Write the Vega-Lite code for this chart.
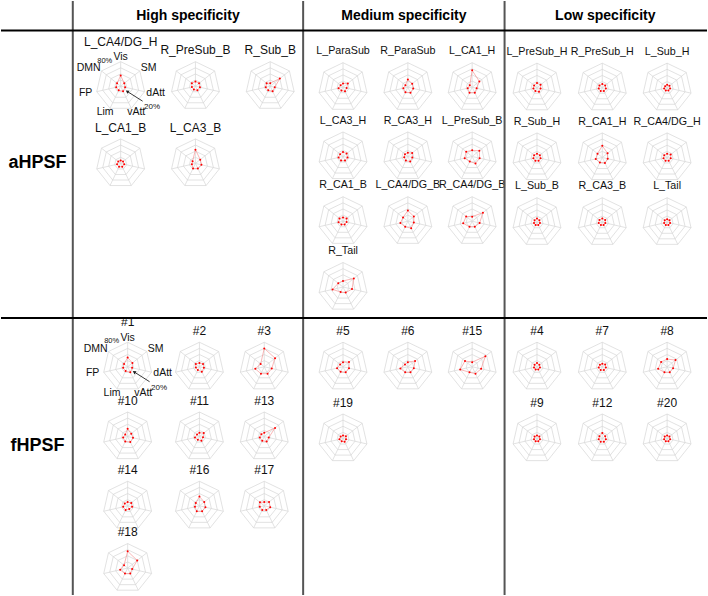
{
"$schema": "https://vega.github.io/schema/vega-lite/v6.json",
"width": 708, "height": 596, "padding": 0,
"autosize": {"type": "fit", "contains": "padding"},
"background": "white",
"config": {"view": {"stroke": null}, "font": "Liberation Sans"},
"datasets": {
"radars": [
{"p":"aHPSF","s":"High","c":0,"r":0,"name":"L_CA4/DG_H","Vis":35,"SM":15,"dAtt":15,"vAtt":18,"Lim":15,"FP":15,"DMN":15},
{"p":"aHPSF","s":"High","c":1,"r":0,"name":"R_PreSub_B","Vis":15,"SM":15,"dAtt":15,"vAtt":15,"Lim":12,"FP":12,"DMN":15},
{"p":"aHPSF","s":"High","c":2,"r":0,"name":"R_Sub_B","Vis":10,"SM":40,"dAtt":15,"vAtt":18,"Lim":15,"FP":15,"DMN":15},
{"p":"aHPSF","s":"High","c":0,"r":1,"name":"L_CA1_B","Vis":10,"SM":10,"dAtt":12,"vAtt":12,"Lim":12,"FP":12,"DMN":10},
{"p":"aHPSF","s":"High","c":1,"r":1,"name":"L_CA3_B","Vis":45,"SM":20,"dAtt":20,"vAtt":18,"Lim":18,"FP":12,"DMN":12},
{"p":"aHPSF","s":"Medium","c":0,"r":0,"name":"L_ParaSub","Vis":12,"SM":20,"dAtt":12,"vAtt":15,"Lim":12,"FP":15,"DMN":10},
{"p":"aHPSF","s":"Medium","c":1,"r":0,"name":"R_ParaSub","Vis":25,"SM":18,"dAtt":18,"vAtt":20,"Lim":18,"FP":15,"DMN":10},
{"p":"aHPSF","s":"Medium","c":2,"r":0,"name":"L_CA1_H","Vis":55,"SM":30,"dAtt":15,"vAtt":20,"Lim":20,"FP":15,"DMN":10},
{"p":"aHPSF","s":"Medium","c":0,"r":1,"name":"L_CA3_H","Vis":15,"SM":15,"dAtt":15,"vAtt":15,"Lim":15,"FP":15,"DMN":12},
{"p":"aHPSF","s":"Medium","c":1,"r":1,"name":"R_CA3_H","Vis":12,"SM":18,"dAtt":15,"vAtt":18,"Lim":15,"FP":12,"DMN":12},
{"p":"aHPSF","s":"Medium","c":2,"r":1,"name":"L_PreSub_B","Vis":20,"SM":30,"dAtt":25,"vAtt":25,"Lim":18,"FP":25,"DMN":25},
{"p":"aHPSF","s":"Medium","c":0,"r":2,"name":"R_CA1_B","Vis":12,"SM":15,"dAtt":12,"vAtt":12,"Lim":12,"FP":15,"DMN":15},
{"p":"aHPSF","s":"Medium","c":1,"r":2,"name":"L_CA4/DG_B","Vis":35,"SM":25,"dAtt":20,"vAtt":25,"Lim":20,"FP":25,"DMN":20},
{"p":"aHPSF","s":"Medium","c":2,"r":2,"name":"R_CA4/DG_B","Vis":15,"SM":45,"dAtt":25,"vAtt":20,"Lim":20,"FP":30,"DMN":25},
{"p":"aHPSF","s":"Medium","c":0,"r":3,"name":"R_Tail","Vis":20,"SM":45,"dAtt":30,"vAtt":20,"Lim":18,"FP":35,"DMN":20},
{"p":"aHPSF","s":"Low","c":0,"r":0,"name":"L_PreSub_H","Vis":15,"SM":15,"dAtt":12,"vAtt":15,"Lim":12,"FP":12,"DMN":12},
{"p":"aHPSF","s":"Low","c":1,"r":0,"name":"R_PreSub_H","Vis":12,"SM":12,"dAtt":12,"vAtt":12,"Lim":12,"FP":12,"DMN":12},
{"p":"aHPSF","s":"Low","c":2,"r":0,"name":"L_Sub_H","Vis":10,"SM":10,"dAtt":10,"vAtt":10,"Lim":10,"FP":10,"DMN":8},
{"p":"aHPSF","s":"Low","c":0,"r":1,"name":"R_Sub_H","Vis":12,"SM":12,"dAtt":12,"vAtt":12,"Lim":12,"FP":12,"DMN":12},
{"p":"aHPSF","s":"Low","c":1,"r":1,"name":"R_CA1_H","Vis":38,"SM":22,"dAtt":18,"vAtt":20,"Lim":18,"FP":22,"DMN":20},
{"p":"aHPSF","s":"Low","c":2,"r":1,"name":"R_CA4/DG_H","Vis":12,"SM":15,"dAtt":12,"vAtt":12,"Lim":12,"FP":12,"DMN":12},
{"p":"aHPSF","s":"Low","c":0,"r":2,"name":"L_Sub_B","Vis":12,"SM":10,"dAtt":10,"vAtt":10,"Lim":10,"FP":10,"DMN":10},
{"p":"aHPSF","s":"Low","c":1,"r":2,"name":"R_CA3_B","Vis":12,"SM":12,"dAtt":10,"vAtt":10,"Lim":10,"FP":12,"DMN":12},
{"p":"aHPSF","s":"Low","c":2,"r":2,"name":"L_Tail","Vis":10,"SM":10,"dAtt":10,"vAtt":10,"Lim":10,"FP":10,"DMN":10},
{"p":"fHPSF","s":"High","c":0,"r":0,"name":"#1","Vis":30,"SM":20,"dAtt":15,"vAtt":20,"Lim":15,"FP":15,"DMN":15},
{"p":"fHPSF","s":"High","c":1,"r":0,"name":"#2","Vis":12,"SM":15,"dAtt":15,"vAtt":18,"Lim":12,"FP":12,"DMN":15},
{"p":"fHPSF","s":"High","c":2,"r":0,"name":"#3","Vis":60,"SM":45,"dAtt":25,"vAtt":25,"Lim":25,"FP":30,"DMN":15},
{"p":"fHPSF","s":"High","c":0,"r":1,"name":"#10","Vis":25,"SM":15,"dAtt":18,"vAtt":20,"Lim":18,"FP":15,"DMN":10},
{"p":"fHPSF","s":"High","c":1,"r":1,"name":"#11","Vis":12,"SM":18,"dAtt":12,"vAtt":15,"Lim":12,"FP":15,"DMN":10},
{"p":"fHPSF","s":"High","c":2,"r":1,"name":"#13","Vis":12,"SM":45,"dAtt":15,"vAtt":18,"Lim":15,"FP":15,"DMN":12},
{"p":"fHPSF","s":"High","c":0,"r":2,"name":"#14","Vis":12,"SM":15,"dAtt":15,"vAtt":12,"Lim":15,"FP":15,"DMN":12},
{"p":"fHPSF","s":"High","c":1,"r":2,"name":"#16","Vis":30,"SM":20,"dAtt":20,"vAtt":20,"Lim":20,"FP":15,"DMN":15},
{"p":"fHPSF","s":"High","c":2,"r":2,"name":"#17","Vis":12,"SM":20,"dAtt":20,"vAtt":15,"Lim":15,"FP":15,"DMN":18},
{"p":"fHPSF","s":"High","c":0,"r":3,"name":"#18","Vis":55,"SM":40,"dAtt":15,"vAtt":20,"Lim":20,"FP":25,"DMN":15},
{"p":"fHPSF","s":"Medium","c":0,"r":0,"name":"#5","Vis":15,"SM":25,"dAtt":20,"vAtt":20,"Lim":18,"FP":20,"DMN":12},
{"p":"fHPSF","s":"Medium","c":1,"r":0,"name":"#6","Vis":15,"SM":30,"dAtt":20,"vAtt":20,"Lim":20,"FP":25,"DMN":12},
{"p":"fHPSF","s":"Medium","c":2,"r":0,"name":"#15","Vis":15,"SM":55,"dAtt":30,"vAtt":25,"Lim":20,"FP":40,"DMN":30},
{"p":"fHPSF","s":"Medium","c":0,"r":1,"name":"#19","Vis":10,"SM":12,"dAtt":10,"vAtt":12,"Lim":10,"FP":12,"DMN":10},
{"p":"fHPSF","s":"Low","c":0,"r":0,"name":"#4","Vis":12,"SM":10,"dAtt":10,"vAtt":10,"Lim":10,"FP":10,"DMN":10},
{"p":"fHPSF","s":"Low","c":1,"r":0,"name":"#7","Vis":10,"SM":12,"dAtt":12,"vAtt":12,"Lim":12,"FP":12,"DMN":10},
{"p":"fHPSF","s":"Low","c":2,"r":0,"name":"#8","Vis":25,"SM":35,"dAtt":20,"vAtt":20,"Lim":20,"FP":30,"DMN":25},
{"p":"fHPSF","s":"Low","c":0,"r":1,"name":"#9","Vis":10,"SM":10,"dAtt":10,"vAtt":10,"Lim":10,"FP":10,"DMN":10},
{"p":"fHPSF","s":"Low","c":1,"r":1,"name":"#12","Vis":18,"SM":12,"dAtt":12,"vAtt":12,"Lim":12,"FP":12,"DMN":12},
{"p":"fHPSF","s":"Low","c":2,"r":1,"name":"#20","Vis":10,"SM":10,"dAtt":10,"vAtt":10,"Lim":10,"FP":10,"DMN":10}
]
},
"layer": [
{
"data": {"name": "radars"},
"transform": [
{"calculate": "datum.s=='High' ? (datum.p=='aHPSF' ? [120,195,270] : [127,199,264])[datum.c] : (datum.s=='Medium' ? [343,408,472.5] : [537.5,603,668])[datum.c]", "as": "cx"},
{"calculate": "(datum.p=='aHPSF' ? (datum.s=='High' ? [85.5,163] : (datum.s=='Medium' ? [86.5,156,221,287] : [87,157,222])) : (datum.s=='High' ? [367,437,506.5,569] : [367,439]))[datum.r]", "as": "cy"},
{"fold": ["Vis","SM","dAtt","vAtt","Lim","FP","DMN"], "as": ["axis","val"]},
{"calculate": "indexof(['Vis','SM','dAtt','vAtt','Lim','FP','DMN'], datum.axis)", "as": "i"},
{"calculate": "[20,40,60,80]", "as": "lv"},
{"flatten": ["lv"]},
{"calculate": "datum.cx + 0.3075*datum.lv*sin(datum.i*2*PI/7)", "as": "px"},
{"calculate": "datum.cy - 0.3075*datum.lv*cos(datum.i*2*PI/7)", "as": "py"},
{"calculate": "datum.cx + 0.3075*datum.lv*sin((datum.i+1)*2*PI/7)", "as": "px2"},
{"calculate": "datum.cy - 0.3075*datum.lv*cos((datum.i+1)*2*PI/7)", "as": "py2"}
],
"mark": {"type": "rule", "color": "#d6d6d6", "strokeWidth": 0.7},
"encoding": {
"x": {"field": "px", "type": "quantitative", "scale": {"domain": [0,708], "nice": false, "zero": false}, "axis": null},
"y": {"field": "py", "type": "quantitative", "scale": {"domain": [0,596], "nice": false, "zero": false, "reverse": true}, "axis": null},
"x2": {"field": "px2"}, "y2": {"field": "py2"}
}
},
{
"data": {"name": "radars"},
"transform": [
{"calculate": "datum.s=='High' ? (datum.p=='aHPSF' ? [120,195,270] : [127,199,264])[datum.c] : (datum.s=='Medium' ? [343,408,472.5] : [537.5,603,668])[datum.c]", "as": "cx"},
{"calculate": "(datum.p=='aHPSF' ? (datum.s=='High' ? [85.5,163] : (datum.s=='Medium' ? [86.5,156,221,287] : [87,157,222])) : (datum.s=='High' ? [367,437,506.5,569] : [367,439]))[datum.r]", "as": "cy"},
{"fold": ["Vis","SM","dAtt","vAtt","Lim","FP","DMN"], "as": ["axis","val"]},
{"calculate": "indexof(['Vis','SM','dAtt','vAtt','Lim','FP','DMN'], datum.axis)", "as": "i"},
{"calculate": "datum.cx + 0.3075*80*sin(datum.i*2*PI/7)", "as": "px2"},
{"calculate": "datum.cy - 0.3075*80*cos(datum.i*2*PI/7)", "as": "py2"}
],
"mark": {"type": "rule", "color": "#d6d6d6", "strokeWidth": 0.7},
"encoding": {
"x": {"field": "cx", "type": "quantitative"},
"y": {"field": "cy", "type": "quantitative"},
"x2": {"field": "px2"}, "y2": {"field": "py2"}
}
},
{
"data": {"name": "radars"},
"transform": [
{"calculate": "datum.s=='High' ? (datum.p=='aHPSF' ? [120,195,270] : [127,199,264])[datum.c] : (datum.s=='Medium' ? [343,408,472.5] : [537.5,603,668])[datum.c]", "as": "cx"},
{"calculate": "(datum.p=='aHPSF' ? (datum.s=='High' ? [85.5,163] : (datum.s=='Medium' ? [86.5,156,221,287] : [87,157,222])) : (datum.s=='High' ? [367,437,506.5,569] : [367,439]))[datum.r]", "as": "cy"},
{"fold": ["Vis","SM","dAtt","vAtt","Lim","FP","DMN"], "as": ["axis","val"]},
{"calculate": "indexof(['Vis','SM','dAtt','vAtt','Lim','FP','DMN'], datum.axis)", "as": "i"},
{"calculate": "datum[['Vis','SM','dAtt','vAtt','Lim','FP','DMN'][(datum.i+1)%7]]", "as": "nval"},
{"calculate": "datum.cx + 0.3075*datum.val*sin(datum.i*2*PI/7)", "as": "px"},
{"calculate": "datum.cy - 0.3075*datum.val*cos(datum.i*2*PI/7)", "as": "py"},
{"calculate": "datum.cx + 0.3075*datum.nval*sin((datum.i+1)*2*PI/7)", "as": "px2"},
{"calculate": "datum.cy - 0.3075*datum.nval*cos((datum.i+1)*2*PI/7)", "as": "py2"}
],
"mark": {"type": "rule", "color": "#f37b7b", "strokeWidth": 0.55},
"encoding": {
"x": {"field": "px", "type": "quantitative"},
"y": {"field": "py", "type": "quantitative"},
"x2": {"field": "px2"}, "y2": {"field": "py2"}
}
},
{
"data": {"name": "radars"},
"transform": [
{"calculate": "datum.s=='High' ? (datum.p=='aHPSF' ? [120,195,270] : [127,199,264])[datum.c] : (datum.s=='Medium' ? [343,408,472.5] : [537.5,603,668])[datum.c]", "as": "cx"},
{"calculate": "(datum.p=='aHPSF' ? (datum.s=='High' ? [85.5,163] : (datum.s=='Medium' ? [86.5,156,221,287] : [87,157,222])) : (datum.s=='High' ? [367,437,506.5,569] : [367,439]))[datum.r]", "as": "cy"},
{"fold": ["Vis","SM","dAtt","vAtt","Lim","FP","DMN"], "as": ["axis","val"]},
{"calculate": "indexof(['Vis','SM','dAtt','vAtt','Lim','FP','DMN'], datum.axis)", "as": "i"},
{"calculate": "datum.cx + 0.3075*datum.val*sin(datum.i*2*PI/7)", "as": "px"},
{"calculate": "datum.cy - 0.3075*datum.val*cos(datum.i*2*PI/7)", "as": "py"}
],
"mark": {"type": "point", "filled": true, "color": "#ff0000", "size": 4, "opacity": 1},
"encoding": {
"x": {"field": "px", "type": "quantitative"},
"y": {"field": "py", "type": "quantitative"}
}
},
{
"data": {"name": "radars"},
"transform": [
{"calculate": "datum.s=='High' ? (datum.p=='aHPSF' ? [120,195,270] : [127,199,264])[datum.c] : (datum.s=='Medium' ? [343,408,472.5] : [537.5,603,668])[datum.c]", "as": "cx"},
{"calculate": "(datum.p=='aHPSF' ? (datum.s=='High' ? [85.5,163] : (datum.s=='Medium' ? [86.5,156,221,287] : [87,157,222])) : (datum.s=='High' ? [367,437,506.5,569] : [367,439]))[datum.r]", "as": "cy"},
{"calculate": "datum.cy - ((datum.name=='L_CA4/DG_H' || datum.name=='#1') ? 44.5 : 36)", "as": "ty"}
],
"mark": {"type": "text", "color": "#111111", "baseline": "middle", "align": "center"},
"encoding": {
"x": {"field": "cx", "type": "quantitative"},
"y": {"field": "ty", "type": "quantitative"},
"text": {"field": "name"},
"size": {"condition": {"test": "datum.p=='aHPSF' && datum.s!='High'", "value": 10.7}, "value": 12}
}
},
{
"data": {"name": "radars"},
"transform": [
{"filter": "datum.name=='L_CA4/DG_H' || datum.name=='#1'"},
{"calculate": "datum.s=='High' ? (datum.p=='aHPSF' ? [120,195,270] : [127,199,264])[datum.c] : (datum.s=='Medium' ? [343,408,472.5] : [537.5,603,668])[datum.c]", "as": "cx"},
{"calculate": "(datum.p=='aHPSF' ? (datum.s=='High' ? [85.5,163] : (datum.s=='Medium' ? [86.5,156,221,287] : [87,157,222])) : (datum.s=='High' ? [367,437,506.5,569] : [367,439]))[datum.r]", "as": "cy"},
{"fold": ["Vis","SM","dAtt","vAtt","Lim","FP","DMN"], "as": ["axis","val"]},
{"calculate": "indexof(['Vis','SM','dAtt','vAtt','Lim','FP','DMN'], datum.axis)", "as": "i"},
{"calculate": "datum.cx + 36*sin(datum.i*2*PI/7) - (datum.axis=='DMN' ? 4 : 0)", "as": "px"},
{"calculate": "datum.cy - 29*cos(datum.i*2*PI/7)", "as": "py"}
],
"mark": {"type": "text", "color": "#111111", "baseline": "middle", "align": "center", "fontSize": 10.5},
"encoding": {
"x": {"field": "px", "type": "quantitative"},
"y": {"field": "py", "type": "quantitative"},
"text": {"field": "axis"}
}
},
{
"data": {"name": "radars"},
"transform": [
{"filter": "datum.name=='L_CA4/DG_H' || datum.name=='#1'"},
{"calculate": "datum.s=='High' ? (datum.p=='aHPSF' ? [120,195,270] : [127,199,264])[datum.c] : (datum.s=='Medium' ? [343,408,472.5] : [537.5,603,668])[datum.c]", "as": "cx"},
{"calculate": "(datum.p=='aHPSF' ? (datum.s=='High' ? [85.5,163] : (datum.s=='Medium' ? [86.5,156,221,287] : [87,157,222])) : (datum.s=='High' ? [367,437,506.5,569] : [367,439]))[datum.r]", "as": "cy"},
{"calculate": "datum.cx - 16", "as": "px"},
{"calculate": "datum.cy - 25.5", "as": "py"}
],
"mark": {"type": "text", "color": "#111111", "baseline": "middle", "align": "center", "fontSize": 7.5, "text": "80%"},
"encoding": {
"x": {"field": "px", "type": "quantitative"},
"y": {"field": "py", "type": "quantitative"}
}
},
{
"data": {"name": "radars"},
"transform": [
{"filter": "datum.name=='L_CA4/DG_H' || datum.name=='#1'"},
{"calculate": "datum.s=='High' ? (datum.p=='aHPSF' ? [120,195,270] : [127,199,264])[datum.c] : (datum.s=='Medium' ? [343,408,472.5] : [537.5,603,668])[datum.c]", "as": "cx"},
{"calculate": "(datum.p=='aHPSF' ? (datum.s=='High' ? [85.5,163] : (datum.s=='Medium' ? [86.5,156,221,287] : [87,157,222])) : (datum.s=='High' ? [367,437,506.5,569] : [367,439]))[datum.r]", "as": "cy"},
{"calculate": "datum.cx + 31.5", "as": "px"},
{"calculate": "datum.cy + 21", "as": "py"}
],
"mark": {"type": "text", "color": "#111111", "baseline": "middle", "align": "center", "fontSize": 8, "text": "20%"},
"encoding": {
"x": {"field": "px", "type": "quantitative"},
"y": {"field": "py", "type": "quantitative"}
}
},
{
"data": {"name": "radars"},
"transform": [
{"filter": "datum.name=='L_CA4/DG_H' || datum.name=='#1'"},
{"calculate": "datum.s=='High' ? (datum.p=='aHPSF' ? [120,195,270] : [127,199,264])[datum.c] : (datum.s=='Medium' ? [343,408,472.5] : [537.5,603,668])[datum.c]", "as": "cx"},
{"calculate": "(datum.p=='aHPSF' ? (datum.s=='High' ? [85.5,163] : (datum.s=='Medium' ? [86.5,156,221,287] : [87,157,222])) : (datum.s=='High' ? [367,437,506.5,569] : [367,439]))[datum.r]", "as": "cy"},
{"calculate": "datum.cx + 22", "as": "px"},
{"calculate": "datum.cy + 15", "as": "py"},
{"calculate": "datum.cx + 7", "as": "px2"},
{"calculate": "datum.cy + 5.5", "as": "py2"}
],
"mark": {"type": "rule", "color": "#222222", "strokeWidth": 0.9},
"encoding": {
"x": {"field": "px", "type": "quantitative"},
"y": {"field": "py", "type": "quantitative"},
"x2": {"field": "px2"}, "y2": {"field": "py2"}
}
},
{
"data": {"name": "radars"},
"transform": [
{"filter": "datum.name=='L_CA4/DG_H' || datum.name=='#1'"},
{"calculate": "datum.s=='High' ? (datum.p=='aHPSF' ? [120,195,270] : [127,199,264])[datum.c] : (datum.s=='Medium' ? [343,408,472.5] : [537.5,603,668])[datum.c]", "as": "cx"},
{"calculate": "(datum.p=='aHPSF' ? (datum.s=='High' ? [85.5,163] : (datum.s=='Medium' ? [86.5,156,221,287] : [87,157,222])) : (datum.s=='High' ? [367,437,506.5,569] : [367,439]))[datum.r]", "as": "cy"},
{"calculate": "datum.cx + 6.5", "as": "px"},
{"calculate": "datum.cy + 5.2", "as": "py"}
],
"mark": {"type": "point", "shape": "triangle-up", "filled": true, "color": "#222222", "size": 14, "angle": 303, "opacity": 1},
"encoding": {
"x": {"field": "px", "type": "quantitative"},
"y": {"field": "py", "type": "quantitative"}
}
},
{"data": {"values": [{}]}, "mark": {"type": "rule", "color": "#555555", "strokeWidth": 2},
 "encoding": {"x": {"datum": 72, "type": "quantitative"}, "y": {"datum": 0, "type": "quantitative"}, "y2": {"datum": 596}}},
{"data": {"values": [{}]}, "mark": {"type": "rule", "color": "#555555", "strokeWidth": 2},
 "encoding": {"x": {"datum": 303, "type": "quantitative"}, "y": {"datum": 0, "type": "quantitative"}, "y2": {"datum": 596}}},
{"data": {"values": [{}]}, "mark": {"type": "rule", "color": "#555555", "strokeWidth": 2},
 "encoding": {"x": {"datum": 505, "type": "quantitative"}, "y": {"datum": 0, "type": "quantitative"}, "y2": {"datum": 596}}},
{"data": {"values": [{}]}, "mark": {"type": "rule", "color": "#000000", "strokeWidth": 2},
 "encoding": {"y": {"datum": 29.5, "type": "quantitative"}, "x": {"datum": 0, "type": "quantitative"}, "x2": {"datum": 708}}},
{"data": {"values": [{}]}, "mark": {"type": "rule", "color": "#000000", "strokeWidth": 2},
 "encoding": {"y": {"datum": 318, "type": "quantitative"}, "x": {"datum": 0, "type": "quantitative"}, "x2": {"datum": 708}}},
{"data": {"values": [{}]}, "mark": {"type": "text", "fontWeight": "bold", "fontSize": 14, "color": "#000000", "baseline": "middle", "text": "High specificity"},
 "encoding": {"x": {"datum": 187.5, "type": "quantitative"}, "y": {"datum": 15, "type": "quantitative"}}},
{"data": {"values": [{}]}, "mark": {"type": "text", "fontWeight": "bold", "fontSize": 14, "color": "#000000", "baseline": "middle", "text": "Medium specificity"},
 "encoding": {"x": {"datum": 404, "type": "quantitative"}, "y": {"datum": 15, "type": "quantitative"}}},
{"data": {"values": [{}]}, "mark": {"type": "text", "fontWeight": "bold", "fontSize": 14, "color": "#000000", "baseline": "middle", "text": "Low specificity"},
 "encoding": {"x": {"datum": 606, "type": "quantitative"}, "y": {"datum": 15, "type": "quantitative"}}},
{"data": {"values": [{}]}, "mark": {"type": "text", "fontWeight": "bold", "fontSize": 18, "color": "#000000", "baseline": "middle", "text": "aHPSF"},
 "encoding": {"x": {"datum": 36.5, "type": "quantitative"}, "y": {"datum": 163, "type": "quantitative"}}},
{"data": {"values": [{}]}, "mark": {"type": "text", "fontWeight": "bold", "fontSize": 18, "color": "#000000", "baseline": "middle", "text": "fHPSF"},
 "encoding": {"x": {"datum": 36.5, "type": "quantitative"}, "y": {"datum": 446, "type": "quantitative"}}}
]
}
